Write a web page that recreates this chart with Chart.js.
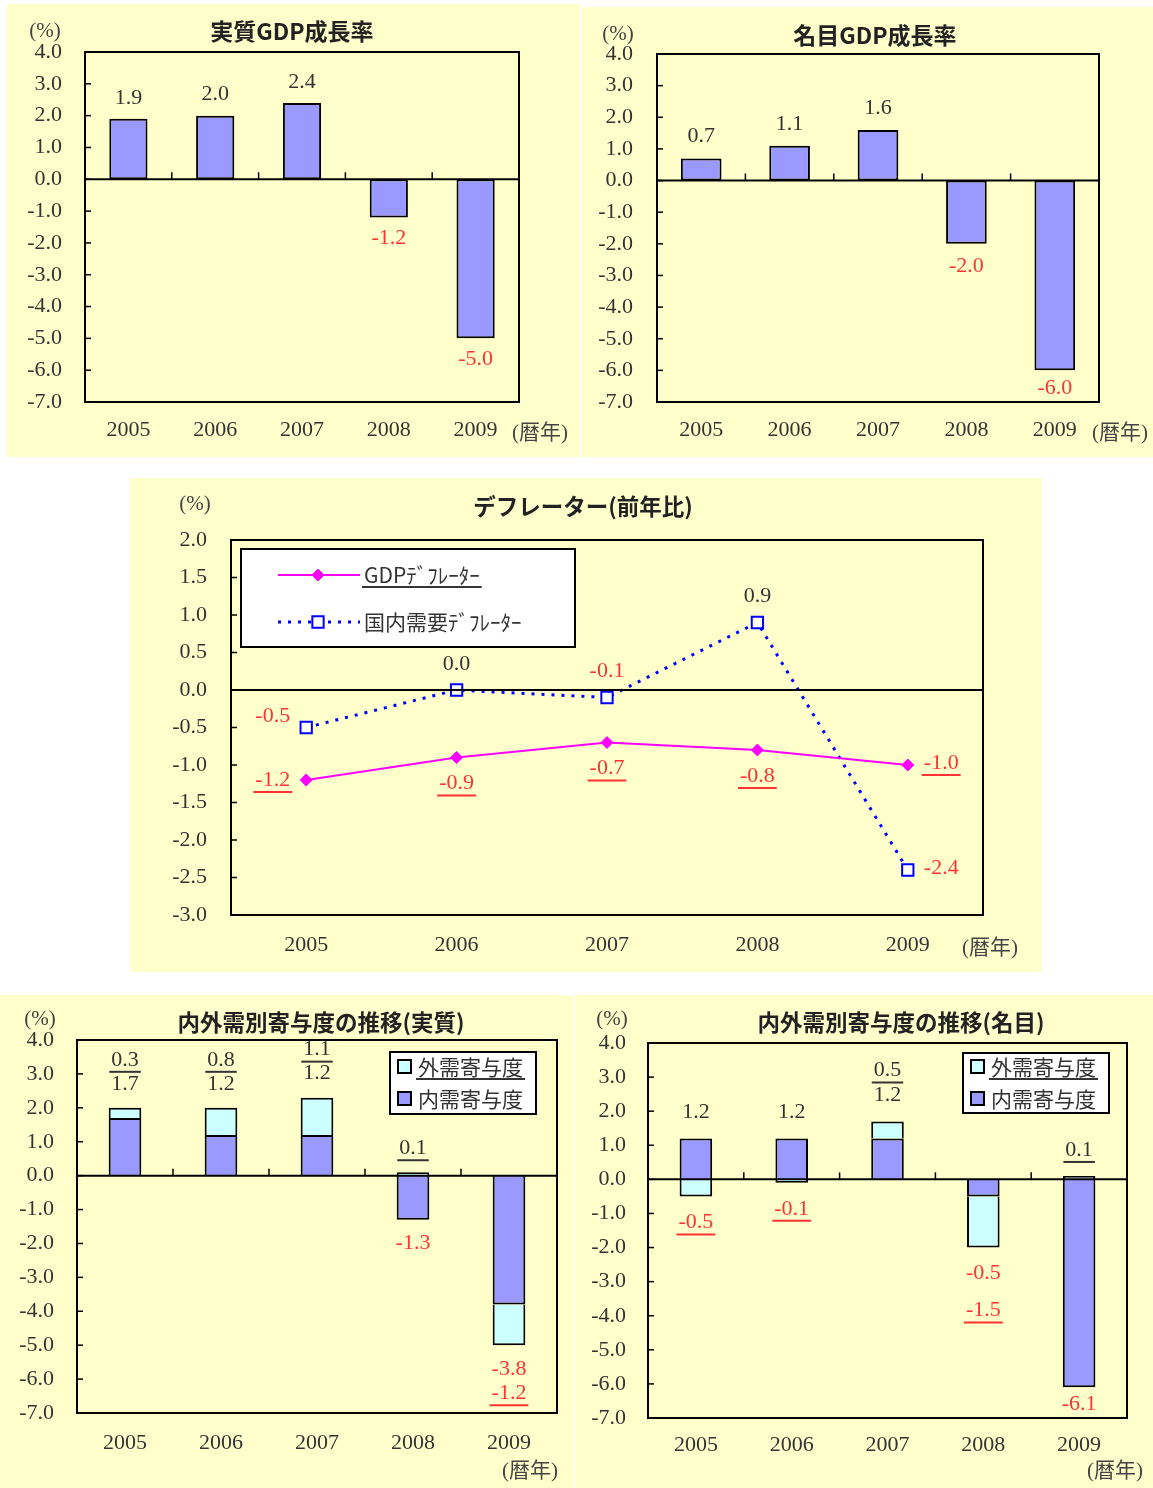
<!DOCTYPE html>
<html>
<head>
<meta charset="utf-8">
<script src="https://cdn.jsdelivr.net/npm/chart.js@4.4.1/dist/chart.umd.min.js"></script>
<style>
body { margin: 0; background: #fff; width: 1153px; height: 1488px; position: relative; overflow: hidden; }
.panel { position: absolute; background: #ffffcc; }
.panel canvas { position: absolute; left: 0; top: 0; }
.t { position: absolute; transform: translate(-50%, -50%); white-space: nowrap; color: #444; font-size: 21px; font-family: "Liberation Serif", "Noto Sans CJK JP", serif; }
.ttl { font-family: "Noto Sans CJK JP", sans-serif; font-weight: bold; font-size: 23px; color: #222; }
.ttl2 { font-size: 22.5px; }
</style>
</head>
<body>
<div class="panel" style="left:7px;top:4px;width:573px;height:453px"><canvas id="c1" width="573" height="453"></canvas></div>
<div class="panel" style="left:582px;top:7px;width:571px;height:450px"><canvas id="c2" width="571" height="450"></canvas></div>
<div class="panel" style="left:130px;top:478px;width:912px;height:494px"><canvas id="c3" width="912" height="494"></canvas></div>
<div class="panel" style="left:0px;top:995px;width:573px;height:493px"><canvas id="c4" width="573" height="493"></canvas></div>
<div class="panel" style="left:575px;top:995px;width:578px;height:493px"><canvas id="c5" width="578" height="493"></canvas></div>

<div class="t" style="left:45px;top:30px">(%)</div>
<div class="t ttl" style="left:292px;top:30px">実質GDP成長率</div>
<div class="t" style="left:540px;top:430px">(暦年)</div>

<div class="t" style="left:618px;top:33px">(%)</div>
<div class="t ttl" style="left:875px;top:34px">名目GDP成長率</div>
<div class="t" style="left:1120px;top:430px">(暦年)</div>

<div class="t" style="left:195px;top:503px">(%)</div>
<div class="t ttl ttl2" style="left:583px;top:505px">デフレーター(前年比)</div>
<div class="t" style="left:990px;top:945px">(暦年)</div>

<div class="t" style="left:40px;top:1018px">(%)</div>
<div class="t ttl ttl2" style="left:321px;top:1021px">内外需別寄与度の推移(実質)</div>
<div class="t" style="left:530px;top:1468px">(暦年)</div>

<div class="t" style="left:612px;top:1018px">(%)</div>
<div class="t ttl ttl2" style="left:901px;top:1021px">内外需別寄与度の推移(名目)</div>
<div class="t" style="left:1115px;top:1468px">(暦年)</div>

<script>
// values
var years = ["2005", "2006", "2007", "2008", "2009"];
var realGdp = [1.9, 2.0, 2.4, -1.2, -5.0];
var nominalGdp = [0.7, 1.1, 1.6, -2.0, -6.0];
var gdpDeflator = [-1.2, -0.9, -0.7, -0.8, -1.0];
var domesticDeflator = [-0.5, 0.0, -0.1, 0.9, -2.4];
var realDomestic = [1.7, 1.2, 1.2, -1.3, -3.8];
var realExternal = [0.3, 0.8, 1.1, 0.1, -1.2];
var nominalDomestic = [1.2, 1.2, 1.2, -0.5, -6.1];
var nominalExternal = [-0.5, -0.1, 0.5, -1.5, 0.1];

// where the deflator value labels sit next to their points
var gdpDeflatorPlaces = ["left", "below", "below", "below", "right"];
var domesticDeflatorPlaces = ["upleft", "above", "above", "above", "right"];

var dark = "#333333";
var red = "#ff3333";
var purple = "#9999ff";
var cyan = "#ccffff";
var numFont = "22px 'Liberation Serif', serif";
var jpFont = "21px 'Noto Sans CJK JP', sans-serif";

function drawLabel(ctx, text, x, y, color, underline, align) {
  ctx.fillStyle = color;
  ctx.textAlign = align;
  ctx.textBaseline = "middle";
  ctx.fillText(text, x, y);
  if (underline) {
    var w = ctx.measureText(text).width;
    var x0 = align === "center" ? x - w / 2 : align === "right" ? x - w : x;
    ctx.strokeStyle = color;
    ctx.lineWidth = 2;
    ctx.beginPath();
    ctx.moveTo(x0 - 2, y + 12);
    ctx.lineTo(x0 + w + 2, y + 12);
    ctx.stroke();
  }
}

// box round the plot, zero line, inner tick marks
var framePlugin = {
  id: "frame",
  afterDatasetsDraw: function(chart, args, opts) {
    var ctx = chart.ctx, a = chart.chartArea;
    var x = chart.scales.x, y = chart.scales.y;
    var y0 = y.getPixelForValue(0);
    ctx.save();
    ctx.strokeStyle = "#000";
    ctx.lineWidth = 2;
    ctx.strokeRect(a.left, a.top, a.right - a.left, a.bottom - a.top);
    ctx.beginPath();
    ctx.moveTo(a.left, y0);
    ctx.lineTo(a.right, y0);
    ctx.stroke();
    ctx.lineWidth = 1.5;
    y.ticks.forEach(function(t, i) {
      var py = y.getPixelForTick(i);
      ctx.beginPath();
      ctx.moveTo(a.left, py);
      ctx.lineTo(a.left + 6, py);
      ctx.stroke();
    });
    if (opts.catTicks) {
      for (var i = 0; i < x.ticks.length - 1; i++) {
        var px = (x.getPixelForTick(i) + x.getPixelForTick(i + 1)) / 2;
        ctx.beginPath();
        ctx.moveTo(px, y0);
        ctx.lineTo(px, y0 - 7);
        ctx.stroke();
      }
    }
    ctx.restore();
  }
};

// value labels on (stacked) bars, nearest dataset first
var barLabels = {
  id: "barLabels",
  afterDatasetsDraw: function(chart, args, opts) {
    if (!opts.gap) return;
    var ctx = chart.ctx, y = chart.scales.y, a = chart.chartArea;
    var sets = chart.data.datasets;
    ctx.save();
    ctx.font = numFont;
    chart.getDatasetMeta(0).data.forEach(function(bar, i) {
      var up = 0, down = 0, nUp = 0, nDown = 0;
      sets.forEach(function(s) {
        if (s.data[i] >= 0) up += s.data[i];
        else down += s.data[i];
      });
      sets.forEach(function(s, d) {
        var v = s.data[i];
        var py;
        if (v >= 0) {
          py = y.getPixelForValue(up) - opts.gap - nUp * opts.step;
          nUp++;
        } else {
          py = y.getPixelForValue(down) + opts.gap + nDown * (opts.stepDown || opts.step);
          py = Math.min(py, a.bottom - 14);
          nDown++;
        }
        drawLabel(ctx, v.toFixed(1), bar.x, py, v >= 0 ? dark : red, d === opts.underlined, "center");
      });
    });
    ctx.restore();
  }
};

// value labels next to line points
var lineLabels = {
  id: "lineLabels",
  afterDatasetsDraw: function(chart, args, opts) {
    if (!opts.places) return;
    var ctx = chart.ctx;
    ctx.save();
    ctx.font = numFont;
    chart.data.datasets.forEach(function(s, d) {
      chart.getDatasetMeta(d).data.forEach(function(pt, i) {
        var v = s.data[i];
        var place = opts.places[d][i];
        var dx = 0, dy = 0, align = "center";
        if (place === "above") dy = -opts.gap;
        if (place === "below") dy = opts.gap;
        if (place === "left" || place === "upleft") { dx = -16; align = "right"; }
        if (place === "upleft") dy = -11;
        if (place === "right") { dx = 16; align = "left"; dy = -2; }
        drawLabel(ctx, v.toFixed(1), pt.x + dx, pt.y + dy, v < 0 ? red : dark, d === opts.underlined, align);
      });
    });
    ctx.restore();
  }
};

// white legend box inside the plot
var boxLegend = {
  id: "boxLegend",
  afterDraw: function(chart, args, opts) {
    if (!opts.w) return;
    var ctx = chart.ctx, a = chart.chartArea;
    var bx = a.left + opts.x, by = a.top + opts.y;
    ctx.save();
    ctx.fillStyle = "#fff";
    ctx.fillRect(bx, by, opts.w, opts.h);
    ctx.strokeStyle = "#000";
    ctx.lineWidth = 2;
    ctx.strokeRect(bx, by, opts.w, opts.h);
    ctx.font = jpFont;
    opts.order.forEach(function(idx, k) {
      var ds = chart.data.datasets[idx];
      var cy = by + opts.rowTop + k * opts.rowGap;
      if (opts.kind === "box") {
        ctx.fillStyle = ds.backgroundColor;
        ctx.fillRect(bx + 8, cy - 7, 13, 13);
        ctx.strokeStyle = "#000";
        ctx.lineWidth = 2;
        ctx.strokeRect(bx + 8, cy - 7, 13, 13);
      } else {
        ctx.strokeStyle = ds.borderColor;
        ctx.lineWidth = ds.borderWidth;
        ctx.setLineDash(ds.borderDash || []);
        ctx.beginPath();
        ctx.moveTo(bx + 37, cy);
        ctx.lineTo(bx + 119, cy);
        ctx.stroke();
        ctx.setLineDash([]);
        ctx.lineWidth = ds.pointBorderWidth || 1;
        ctx.fillStyle = ds.pointBackgroundColor;
        ctx.strokeStyle = ds.pointBorderColor;
        Chart.helpers.drawPoint(ctx, {
          pointStyle: ds.pointStyle, radius: ds.pointRadius, borderWidth: ds.pointBorderWidth || 1
        }, bx + 77, cy);
      }
      drawLabel(ctx, ds.label, bx + opts.textX, cy, dark, k === opts.underlined, "left");
    });
    ctx.restore();
  }
};

Chart.register(framePlugin, barLabels, lineLabels, boxLegend);

function baseOptions(g) {
  return {
    responsive: false,
    animation: false,
    layout: { padding: g.padding },
    plugins: {
      legend: { display: false },
      tooltip: { enabled: false },
      frame: { catTicks: g.catTicks },
      barLabels: g.labels || {},
      lineLabels: g.lineLabels || {},
      boxLegend: g.legend || {}
    },
    scales: {
      x: {
        stacked: !!g.stacked,
        offset: true,
        grid: { display: false, drawTicks: false },
        border: { display: false },
        ticks: { color: dark, font: { family: "'Liberation Serif', serif", size: 22 }, padding: g.xPad, maxRotation: 0 },
        afterFit: function(s) { s.height = 40; }
      },
      y: {
        stacked: !!g.stacked,
        min: g.min,
        max: g.max,
        grid: { display: false, drawTicks: false },
        border: { display: false },
        ticks: {
          stepSize: g.step,
          color: dark,
          font: { family: "'Liberation Serif', serif", size: 22 },
          padding: g.yPad,
          callback: function(v) { return v.toFixed(1); }
        },
        afterFit: function(s) { s.width = g.yWidth; }
      }
    }
  };
}

function barSet(label, data, color, width, skipped) {
  return {
    label: label, data: data, backgroundColor: color, borderColor: "#000",
    borderWidth: 2, borderSkipped: skipped, barPercentage: width, categoryPercentage: 1
  };
}

new Chart(document.getElementById("c1"), {
  type: "bar",
  data: { labels: years, datasets: [barSet("実質GDP成長率", realGdp, purple, 0.44, false)] },
  options: baseOptions({
    padding: { left: 0, right: 61, top: 48, bottom: 15 }, yWidth: 78, yPad: 23, xPad: 15,
    min: -7, max: 4, step: 1, catTicks: true, labels: { gap: 21, step: 23 }
  })
});

new Chart(document.getElementById("c2"), {
  type: "bar",
  data: { labels: years, datasets: [barSet("名目GDP成長率", nominalGdp, purple, 0.46, false)] },
  options: baseOptions({
    padding: { left: 0, right: 54, top: 47, bottom: 15 }, yWidth: 75, yPad: 24, xPad: 15,
    min: -7, max: 4, step: 1, catTicks: true, labels: { gap: 22, step: 23 }
  })
});

new Chart(document.getElementById("c3"), {
  type: "line",
  data: {
    labels: years,
    datasets: [
      {
        label: "GDPﾃﾞﾌﾚｰﾀｰ", data: gdpDeflator, borderColor: "#ff00ff", backgroundColor: "#ff00ff",
        borderWidth: 2, pointStyle: "rectRot", pointRadius: 6, pointBorderWidth: 1,
        pointBackgroundColor: "#ff00ff", pointBorderColor: "#ff00ff"
      },
      {
        label: "国内需要ﾃﾞﾌﾚｰﾀｰ", data: domesticDeflator, borderColor: "#0000ff", backgroundColor: "#0000ff",
        borderWidth: 3, borderDash: [3, 7], pointStyle: "rect", pointRadius: 8, pointBorderWidth: 2,
        pointBackgroundColor: "#ffffff", pointBorderColor: "#0000ff"
      }
    ]
  },
  options: baseOptions({
    padding: { left: 0, right: 59, top: 62, bottom: 17 }, yWidth: 101, yPad: 24, xPad: 17,
    min: -3, max: 2, step: 0.5, catTicks: false,
    lineLabels: { places: [gdpDeflatorPlaces, domesticDeflatorPlaces], gap: 26, underlined: 0 },
    legend: { x: 10, y: 9, w: 334, h: 98, rowTop: 26, rowGap: 47, textX: 123, kind: "line", order: [0, 1], underlined: 0 }
  })
});

new Chart(document.getElementById("c4"), {
  type: "bar",
  data: {
    labels: years,
    datasets: [
      barSet("内需寄与度", realDomestic, purple, 0.34, "start"),
      barSet("外需寄与度", realExternal, cyan, 0.34, "start")
    ]
  },
  options: baseOptions({
    padding: { left: 0, right: 16, top: 45, bottom: 35 }, yWidth: 77, yPad: 23, xPad: 17,
    min: -7, max: 4, step: 1, catTicks: true, stacked: true,
    labels: { gap: 24, step: 24, underlined: 1 },
    legend: { x: 313, y: 12, w: 146, h: 62, rowTop: 15, rowGap: 32, textX: 28, kind: "box", order: [1, 0], underlined: 0 }
  })
});

new Chart(document.getElementById("c5"), {
  type: "bar",
  data: {
    labels: years,
    datasets: [
      barSet("内需寄与度", nominalDomestic, purple, 0.34, "start"),
      barSet("外需寄与度", nominalExternal, cyan, 0.34, "start")
    ]
  },
  options: baseOptions({
    padding: { left: 0, right: 26, top: 48, bottom: 30 }, yWidth: 73, yPad: 22, xPad: 14,
    min: -7, max: 4, step: 1, catTicks: true, stacked: true,
    labels: { gap: 26, step: 25, stepDown: 37, underlined: 1 },
    legend: { x: 315, y: 10, w: 146, h: 60, rowTop: 14, rowGap: 32, textX: 28, kind: "box", order: [1, 0], underlined: 0 }
  })
});
</script>
</body>
</html>
